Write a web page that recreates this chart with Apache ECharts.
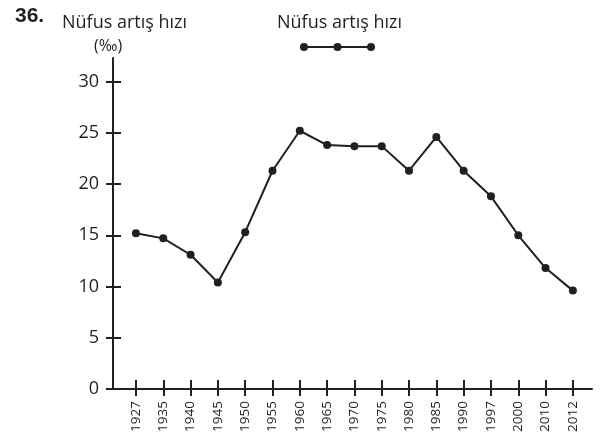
<!DOCTYPE html>
<html>
<head>
<meta charset="utf-8">
<script src="https://cdn.jsdelivr.net/npm/echarts@6/dist/echarts.min.js"></script>
<style>
  html, body { margin: 0; padding: 0; background: #fff; }
  #chart { width: 608px; height: 436px; }
</style>
</head>
<body>
<div id="chart"></div>
<script>
const years = ["1927", "1935", "1940", "1945", "1950", "1955", "1960", "1965", "1970",
  "1975", "1980", "1985", "1990", "1997", "2000", "2010", "2012"];
const growthRate = [15.2, 14.7, 13.1, 10.4, 15.3, 21.3, 25.2, 23.8, 23.7,
  23.7, 21.3, 24.6, 21.3, 18.8, 15.0, 11.8, 9.6];
const yTicks = [0, 5, 10, 15, 20, 25, 30];

const INK = "#231f20";
const FONT = "Open Sans";
const xIdx = years.map((y, i) => i);

const chart = echarts.init(document.getElementById("chart"));

const xBase = {
  type: "value",
  min: -1.06,
  max: 16.7,
  position: "bottom",
  splitLine: { show: false },
};
const yBase = {
  type: "value",
  min: 0,
  max: 32.3,
  position: "left",
  offset: -6,
  splitLine: { show: false },
};

chart.setOption({
  animation: false,
  backgroundColor: "#fff",
  title: [
    { text: "36.", left: 10, top: 1, textStyle: { fontFamily: "Liberation Sans", fontWeight: "bold", fontSize: 21, color: INK } },
    { text: "Nüfus artış hızı", left: 57, top: 9, textStyle: { fontFamily: FONT, fontWeight: "normal", fontSize: 18, color: INK } },
    { text: "(‰)", left: 89, top: 33, textStyle: { fontFamily: FONT, fontWeight: "normal", fontSize: 16, color: INK } },
    { text: "Nüfus artış hızı", left: 272, top: 9, textStyle: { fontFamily: FONT, fontWeight: "normal", fontSize: 18, color: INK } },
  ],
  legend: {
    left: 295,
    top: 36,
    itemWidth: 75,
    itemHeight: 8,
    icon: "path://M4,3H71V5H4Z M0,4a4,4 0 1,1 8,0a4,4 0 1,1 -8,0Z M33.5,4a4,4 0 1,1 8,0a4,4 0 1,1 -8,0Z M67,4a4,4 0 1,1 8,0a4,4 0 1,1 -8,0Z",
    formatter: () => " ",
    data: ["Nüfus artış hızı"],
  },
  grid: { left: 107, right: 16, top: 58, bottom: 47 },
  xAxis: [
    Object.assign({}, xBase, {
      axisLine: { show: true, onZero: false, lineStyle: { color: INK, width: 2 } },
      axisTick: { show: true, length: 7, customValues: xIdx, lineStyle: { color: INK, width: 2 } },
      axisLabel: {
        show: true, customValues: xIdx, rotate: 90, margin: 12,
        formatter: (v) => years[v], fontFamily: FONT, fontSize: 13.5, color: INK,
      },
    }),
    Object.assign({}, xBase, {
      axisLine: { show: false, onZero: false },
      axisTick: { show: true, inside: true, length: 9, customValues: xIdx, lineStyle: { color: INK, width: 2 } },
      axisLabel: { show: false },
    }),
  ],
  yAxis: [
    Object.assign({}, yBase, {
      axisLine: { show: true, onZero: false, lineStyle: { color: INK, width: 2 } },
      axisTick: { show: true, length: 7, customValues: yTicks, lineStyle: { color: INK, width: 2 } },
      axisLabel: { show: true, customValues: yTicks, margin: 14, fontFamily: FONT, fontSize: 18, color: INK },
    }),
    Object.assign({}, yBase, {
      axisLine: { show: false, onZero: false },
      axisTick: { show: true, inside: true, length: 8, customValues: yTicks, lineStyle: { color: INK, width: 2 } },
      axisLabel: { show: false },
    }),
  ],
  series: [
    {
      name: "Nüfus artış hızı",
      type: "line",
      xAxisIndex: 0,
      yAxisIndex: 0,
      data: growthRate.map((v, i) => [i, v]),
      symbol: "circle",
      symbolSize: 8,
      lineStyle: { color: INK, width: 2 },
      itemStyle: { color: INK },
    },
  ],
});
</script>
</body>
</html>
